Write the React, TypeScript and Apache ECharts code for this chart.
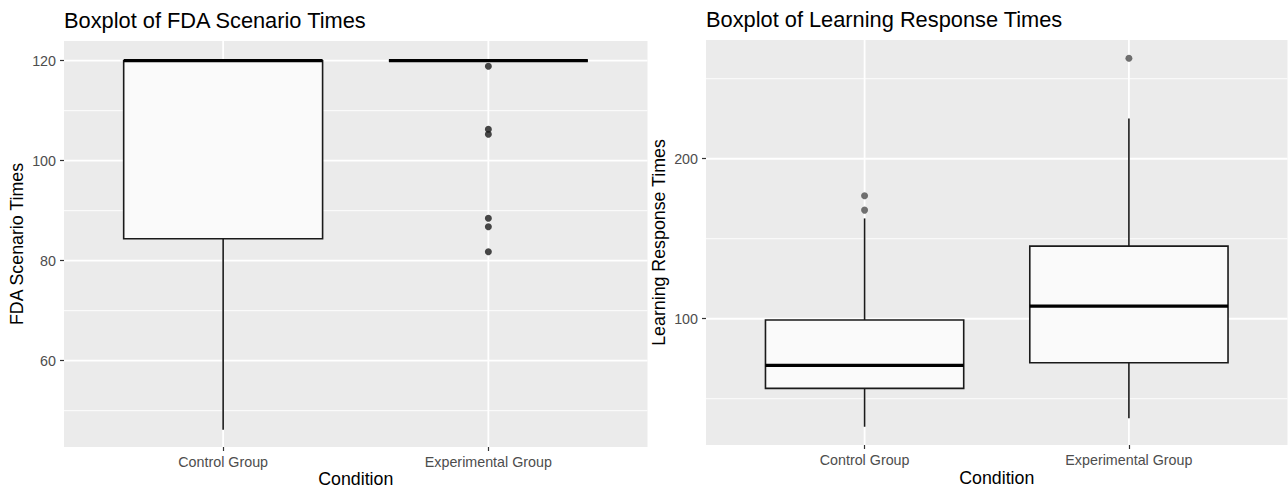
import React, { useEffect, useRef } from 'react';
import * as echarts from 'echarts';

const categories = ['Control Group', 'Experimental Group'];
const xPositions = [1, 2];

// [x, lower whisker, Q1, median, Q3, upper whisker]
const fdaBoxStats = [
  [1, 46.2, 84.4, 120, 120, 120],
  [2, 120, 120, 120, 120, 120],
];
const fdaOutliers = [
  [2, 118.9],
  [2, 106.3],
  [2, 105.3],
  [2, 88.5],
  [2, 86.8],
  [2, 81.8],
];
const fdaMajorTicks = [60, 80, 100, 120];
const fdaMinorTicks = [50, 70, 90, 110];
const fdaRange = [42.74, 123.94];

const learnBoxStats = [
  [1, 32.5, 56.5, 70.8, 99.2, 162.7],
  [2, 37.8, 72.5, 107.9, 145.4, 225.2],
];
const learnOutliers = [
  [1, 176.9],
  [1, 167.9],
  [2, 262.8],
];
const learnMajorTicks = [100, 200];
const learnMinorTicks = [50, 150, 250];
const learnRange = [21.1, 274.2];

const xRange = [0.4, 2.6];

const FONT = 'Liberation Sans, Arial, Helvetica, sans-serif';

function hLineRenderer(width: number) {
  return (params: any, api: any) => {
    const v = api.value(1);
    const p1 = api.coord([xRange[0], v]);
    const p2 = api.coord([xRange[1], v]);
    return {
      type: 'line',
      shape: { x1: p1[0], y1: p1[1], x2: p2[0], y2: p2[1] },
      style: { stroke: '#ffffff', lineWidth: width },
      silent: true,
    };
  };
}

function vLineRenderer(range: number[]) {
  return (params: any, api: any) => {
    const x = api.value(0);
    const p1 = api.coord([x, range[0]]);
    const p2 = api.coord([x, range[1]]);
    return {
      type: 'line',
      shape: { x1: p1[0], y1: p1[1], x2: p2[0], y2: p2[1] },
      style: { stroke: '#ffffff', lineWidth: 1.8 },
      silent: true,
    };
  };
}

function renderBox(params: any, api: any) {
  const x = api.value(0);
  const low = api.value(1);
  const q1 = api.value(2);
  const med = api.value(3);
  const q3 = api.value(4);
  const high = api.value(5);
  const half = 0.375;
  const pLow = api.coord([x, low]);
  const pQ1 = api.coord([x, q1]);
  const pMed = api.coord([x, med]);
  const pQ3 = api.coord([x, q3]);
  const pHigh = api.coord([x, high]);
  const left = api.coord([x - half, q3])[0];
  const right = api.coord([x + half, q3])[0];
  const stroke = '#1a1a1a';
  return {
    type: 'group',
    children: [
      {
        type: 'line',
        shape: { x1: pLow[0], y1: pLow[1], x2: pQ1[0], y2: pQ1[1] },
        style: { stroke, lineWidth: 1.6 },
      },
      {
        type: 'line',
        shape: { x1: pQ3[0], y1: pQ3[1], x2: pHigh[0], y2: pHigh[1] },
        style: { stroke, lineWidth: 1.6 },
      },
      {
        type: 'rect',
        shape: { x: left, y: pQ3[1], width: right - left, height: pQ1[1] - pQ3[1] },
        style: { fill: '#fafafa', stroke, lineWidth: 1.6 },
      },
      {
        type: 'line',
        shape: { x1: left, y1: pMed[1], x2: right, y2: pMed[1] },
        style: { stroke: '#000000', lineWidth: 3.2 },
      },
    ],
  };
}

function makeXAxis(gridIndex: number, nameGap: number) {
  return {
    type: 'value',
    gridIndex,
    min: xRange[0],
    max: xRange[1],
    axisLine: { show: false },
    splitLine: { show: false },
    axisTick: {
      show: true,
      length: 4,
      customValues: xPositions,
      lineStyle: { color: '#333333', width: 1.2 },
    },
    axisLabel: {
      customValues: xPositions,
      formatter: (v: number) => categories[Math.round(v) - 1] || '',
      color: '#4d4d4d',
      fontSize: 14.3,
      fontFamily: FONT,
      margin: 8,
    },
    name: 'Condition',
    nameLocation: 'middle',
    nameGap,
    nameMoveOverlap: false,
    nameTextStyle: { color: '#000000', fontSize: 17.8, lineHeight: 18, fontFamily: FONT },
  };
}

function makeYAxis(gridIndex: number, range: number[], ticks: number[], name: string) {
  return {
    type: 'value',
    gridIndex,
    min: range[0],
    max: range[1],
    axisLine: { show: false },
    splitLine: { show: false },
    axisTick: {
      show: true,
      length: 4,
      customValues: ticks,
      lineStyle: { color: '#333333', width: 1.2 },
    },
    axisLabel: {
      customValues: ticks,
      color: '#4d4d4d',
      fontSize: 14.3,
      fontFamily: FONT,
      margin: 8,
    },
    name,
    nameLocation: 'middle',
    nameGap: 38,
    nameMoveOverlap: false,
    nameTextStyle: { color: '#000000', fontSize: 17.8, fontFamily: FONT },
  };
}

function panelSeries(
  idx: number,
  range: number[],
  major: number[],
  minor: number[],
  stats: number[][],
  outliers: number[][],
  outlierColor: string
) {
  return [
    {
      type: 'custom',
      xAxisIndex: idx,
      yAxisIndex: idx,
      z: 1,
      silent: true,
      renderItem: hLineRenderer(0.9),
      data: minor.map((v) => [1, v]),
    },
    {
      type: 'custom',
      xAxisIndex: idx,
      yAxisIndex: idx,
      z: 1,
      silent: true,
      renderItem: hLineRenderer(1.8),
      data: major.map((v) => [1, v]),
    },
    {
      type: 'custom',
      xAxisIndex: idx,
      yAxisIndex: idx,
      z: 1,
      silent: true,
      renderItem: vLineRenderer(range),
      data: xPositions.map((x) => [x, range[0]]),
    },
    {
      type: 'custom',
      xAxisIndex: idx,
      yAxisIndex: idx,
      z: 2,
      renderItem: renderBox,
      data: stats,
    },
    {
      type: 'scatter',
      xAxisIndex: idx,
      yAxisIndex: idx,
      z: 3,
      symbol: 'circle',
      symbolSize: 7,
      itemStyle: { color: outlierColor },
      data: outliers,
    },
  ];
}

export default function App() {
  const ref = useRef<HTMLDivElement>(null);
  useEffect(() => {
    if (!ref.current) return;
    const chart = echarts.init(ref.current, null, { renderer: 'svg' });
    chart.setOption({
      animation: false,
      backgroundColor: '#ffffff',
      title: [
        {
          text: 'Boxplot of FDA Scenario Times',
          left: 64,
          top: 9,
          textStyle: { color: '#000000', fontSize: 21.8, fontWeight: 'normal', fontFamily: FONT },
          padding: 0,
        },
        {
          text: 'Boxplot of Learning Response Times',
          left: 706,
          top: 8,
          textStyle: { color: '#000000', fontSize: 21.8, fontWeight: 'normal', fontFamily: FONT },
          padding: 0,
        },
      ],
      grid: [
        {
          left: 64,
          top: 41,
          width: 583.5,
          height: 406,
          show: true,
          backgroundColor: '#ebebeb',
          borderWidth: 0,
          outerBoundsMode: 'none',
        },
        {
          left: 706,
          top: 40,
          width: 581.5,
          height: 405,
          show: true,
          backgroundColor: '#ebebeb',
          borderWidth: 0,
          outerBoundsMode: 'none',
        },
      ],
      xAxis: [makeXAxis(0, 23), makeXAxis(1, 24)],
      yAxis: [
        makeYAxis(0, fdaRange, fdaMajorTicks, 'FDA Scenario Times'),
        makeYAxis(1, learnRange, learnMajorTicks, 'Learning Response Times'),
      ],
      series: [
        ...panelSeries(0, fdaRange, fdaMajorTicks, fdaMinorTicks, fdaBoxStats, fdaOutliers, '#1a1a1a'),
        ...panelSeries(1, learnRange, learnMajorTicks, learnMinorTicks, learnBoxStats, learnOutliers, '#4d4d4d'),
      ],
    });
    return () => chart.dispose();
  }, []);
  return (
    <div
      ref={ref}
      style={{ position: 'fixed', left: 0, top: 0, width: 1288, height: 491, background: '#fff' }}
    />
  );
}
